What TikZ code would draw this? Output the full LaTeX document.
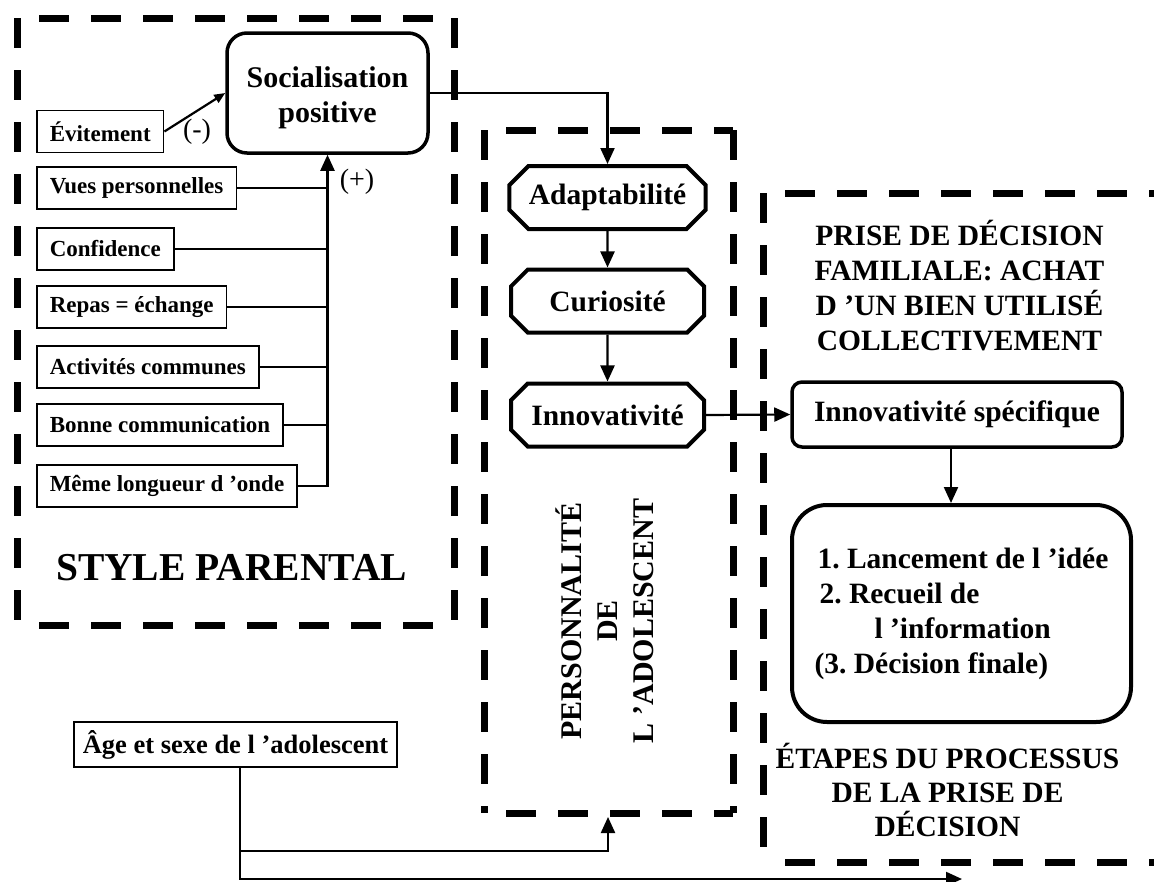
\documentclass[tikz,border=0pt]{standalone}
\usepackage{fontspec}
\setmainfont{Liberation Serif}
\usetikzlibrary{arrows.meta,positioning,shapes.misc}
\newcommand{\fsz}[2]{\fontsize{#1}{#2}\selectfont\bfseries}
\frenchspacing

\begin{document}
\begin{tikzpicture}[x=1pt,y=-1pt,
  dbox/.style={line width=7pt,dash pattern=on 30pt off 22pt},
  dboxh/.style={dbox,dash phase=30pt},
  conn/.style={line width=2.2pt},
  arr/.style={conn,-{Triangle[length=16pt,width=14pt]}},
  factor/.style={draw,line width=1.5pt,anchor=west,minimum height=42pt,inner xsep=13pt,font=\fsz{23}{27}},
  trait/.style={draw,line width=4pt,chamfered rectangle,chamfered rectangle xsep=16pt,minimum width=193pt,minimum height=63pt,font=\fsz{29.5}{35}},
  title/.style={align=center,inner sep=0pt,font=\fsz{29.5}{35}}]
\useasboundingbox (0,0) rectangle (1154,881);
% dashed frames
\coordinate (parent-nw) at (17,18);
\coordinate (parent-se) at (454,625);
\coordinate (perso-nw) at (484,130);
\coordinate (perso-se) at (733,813);
\coordinate (decis-nw) at (763,193);
\coordinate (decis-se) at (1185,862);
\draw[dbox] (parent-nw) -- (parent-nw |- parent-se) (parent-nw -| parent-se) -- (parent-se);
\draw[dboxh] (parent-nw) -- (parent-nw -| parent-se) (parent-nw |- parent-se) -- (parent-se);
\draw[dbox] (perso-nw) -- (perso-nw |- perso-se) (perso-nw -| perso-se) -- (perso-se);
\draw[dboxh] (perso-nw) -- (perso-nw -| perso-se) (perso-nw |- perso-se) -- (perso-se);
\draw[dbox] (decis-nw) -- (decis-nw |- decis-se) (decis-nw -| decis-se) -- (decis-se);
\draw[dboxh] (decis-nw) -- (decis-nw -| decis-se) (decis-nw |- decis-se) -- (decis-se);
% style parental
\node[draw,line width=3.5pt,rounded corners=20pt,minimum width=201pt,minimum height=120pt,align=center,font=\fsz{30}{35}] (social) at (327.5,93) {\rule{0pt}{30pt}Socialisation\\positive};
\node[factor] (evit) at (36,131.5) {Évitement};
\node[factor] (vues) at (36,188) {Vues personnelles};
\node[factor] (confi) at (36,249) {Confidence};
\node[factor] (repas) at (36,307) {Repas = échange};
\node[factor] (activ) at (36,367) {Activités communes};
\node[factor] (bonne) at (36,425) {Bonne communication};
\node[factor] (meme) at (36,486) {Même longueur d ’onde};
\draw[conn,-{Triangle[length=11pt,width=9pt]}] (evit.east) -- (social.west);
\draw[conn] (vues.east) -- (vues.east -| social.south);
\draw[conn] (confi.east) -- (confi.east -| social.south);
\draw[conn] (repas.east) -- (repas.east -| social.south);
\draw[conn] (activ.east) -- (activ.east -| social.south);
\draw[conn] (bonne.east) -- (bonne.east -| social.south);
\draw[arr] (meme.east) -| (social.south);
\node[font=\fontsize{28}{32}\selectfont] (moins) at (197,132) {(-)};
\node[font=\fontsize{28}{32}\selectfont] (plus) at (357,182) {(+)};
\node[anchor=base,inner sep=0pt,font=\fsz{39.5}{45}] (parental) at (231.5,580) {STYLE PARENTAL};
% personnalite
\node[trait] (adapt) at (607.5,197.5) {Adaptabilité};
\node[trait] (curio) at (607.5,301) {Curiosité};
\node[trait] (innov) at (607.5,415) {Innovativité};
\draw[arr] (social.east) -| (adapt.north);
\draw[arr] (adapt) -- (curio);
\draw[arr] (curio) -- (innov);
\node[title,rotate=90,font=\fsz{30}{36}] (perso) at (605,621) {PERSONNALITÉ\\DE\\L ’ADOLESCENT};
% decision familiale
\node[title] (achat) at (959.5,286) {PRISE DE DÉCISION\\FAMILIALE: ACHAT\\D ’UN BIEN UTILISÉ\\COLLECTIVEMENT};
\node[draw,line width=3.5pt,rounded corners=10pt,minimum width=330pt,minimum height=65pt,font=\fsz{29.5}{35}] (spec) at (957,414.5) {Innovativité spécifique};
\node[draw,line width=4pt,rounded corners=35pt,minimum width=339pt,minimum height=217pt,align=left,font=\fsz{29.5}{35}] (steps) at (961.5,613.5) {\hspace*{3pt}1. Lancement de l ’idée\\\hspace*{5pt}2. Recueil de\\\hspace*{60pt}l ’information\\(3. Décision finale)};
\draw[arr] (innov.east) -- (spec.west);
\draw[arr] ([xshift=-6pt]spec.south) -- ([xshift=-6pt]spec.south |- steps.north);
\node[title,font=\fsz{29.5}{34}] (etapes) at (947.5,790) {ÉTAPES DU PROCESSUS\\DE LA PRISE DE\\DÉCISION};
% age et sexe
\node[draw,line width=1.5pt,minimum width=323pt,minimum height=45pt,font=\fsz{26.5}{30}] (age) at (235.5,744.5) {Âge et sexe de l ’adolescent};
\coordinate (fork) at (240,851);
\coordinate (perso-bot) at (608,817);
\coordinate (decis-bot) at (962,879);
\draw[arr] ([xshift=4.5pt]age.south) |- (decis-bot);
\draw[arr] (fork) -| (perso-bot);
\end{tikzpicture}
\end{document}
